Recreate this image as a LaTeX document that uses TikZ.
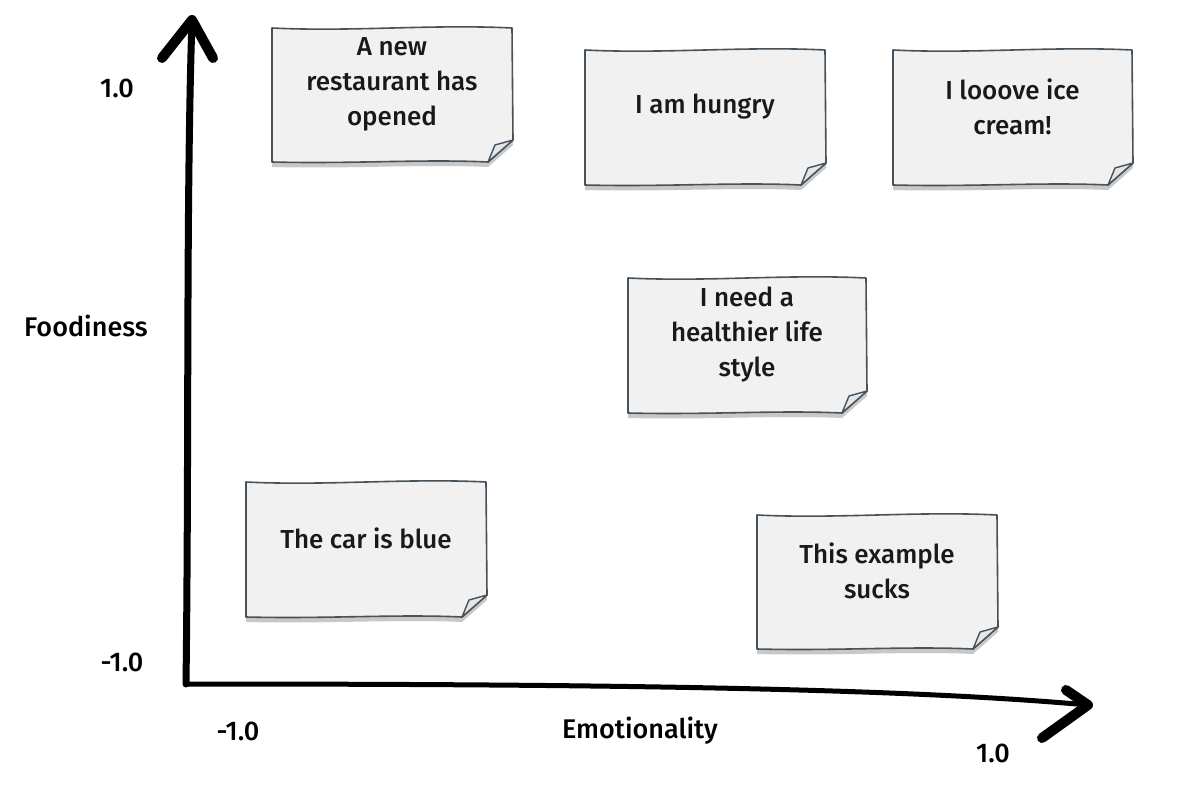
\documentclass[tikz,border=0pt]{standalone}
\usepackage{fontspec}
\setmainfont{Fira Sans}[UprightFont = *-Medium, BoldFont = *-Bold]
\usetikzlibrary{shadows,calc}
\definecolor{notefill}{HTML}{F1F1F1}
\definecolor{noteedge}{HTML}{46525C}
\definecolor{flapfill}{HTML}{E4E6E8}
\tikzset{
 notebody/.style={fill=notefill, draw=noteedge, line width=1.6pt, line join=round,
   drop shadow={shadow xshift=0pt, shadow yshift=-5pt, opacity=0.3, fill=black!70}},
 noteflap/.style={fill=flapfill, draw=noteedge, line width=1.4pt, line join=round},
 notetext/.style={align=center, font=\fontsize{26}{35}\selectfont, text=black!90, inner sep=0pt},
 axisline/.style={line width=#1, line cap=round, line join=round, draw=black},
 axhead/.style={line width=10pt, line cap=round, line join=round, draw=black},
 axlabel/.style={font=\fontsize{27}{32}\selectfont, inner sep=0pt}
}
\newcommand\stickynote[6]{%
 \path[notebody] (#2,#3) .. controls ({#2+80},{#3+4}) and ({#4-80},{#3-4}) .. (#4,#3)
   -- ({#4+1},{#5-22}) -- ({#4-24},{#5}) .. controls ({#4-90},{#5-3}) and ({#2+80},{#5+2}) .. (#2,#5) -- cycle;
 \path[noteflap] ({#4+1},{#5-22}) -- ({#4-17},{#5-17}) -- ({#4-24},{#5}) -- cycle;
 \node[notetext] (#1) at ({(#2+#4)/2},{(#3+#5)/2-11}) {#6};
}
\begin{document}
\begin{tikzpicture}[x=1pt,y=-1pt]
\useasboundingbox[fill=white] (0,0) rectangle (1184,792);

\stickynote{n1}{272}{28}{512}{162}{A new\\restaurant has\\opened}
\stickynote{n2}{585}{50}{825}{185}{I am hungry}
\stickynote{n3}{893}{50}{1132}{185}{I looove ice\\cream!}
\stickynote{n4}{628}{278}{866}{413}{I need a\\healthier life\\style}
\stickynote{n5}{246}{482}{486}{617}{The car is blue}
\stickynote{n6}{757}{515}{997}{649}{This example\\sucks}

\coordinate (O) at (186,684);
\coordinate (Ytop) at (192,20);
\coordinate (Yl) at (162,58);
\coordinate (Yr) at (213,58);
\coordinate (Xend) at (1088,705);
\coordinate (Xu) at (1066,690);
\coordinate (Xd) at (1042,738);

\draw[axisline=7pt] (O) .. controls (189,450) and (186,200) .. (Ytop);
\draw[axhead] (Yl) -- (Ytop) -- (Yr);
\draw[axisline=5pt] (O) .. controls (600,684) and (900,688) .. (Xend);
\draw[axhead] (Xu) -- (Xend) -- (Xd);

\node[axlabel] (y1) at (117,88) {1.0};
\node[axlabel] (ym) at (122,662) {-1.0};
\node[axlabel] (yl) at (86,326) {Foodiness};
\node[axlabel] (xm) at (238,731) {-1.0};
\node[axlabel] (xl) at (640,731) {Emotionality};
\node[axlabel] (x1) at (993,753) {1.0};
\end{tikzpicture}
\end{document}
